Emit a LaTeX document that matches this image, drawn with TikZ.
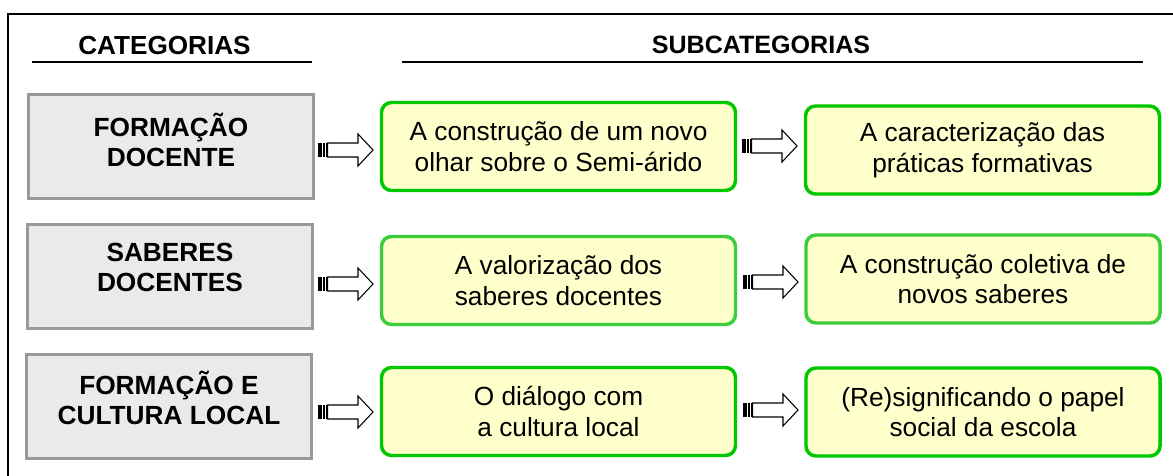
\documentclass[tikz,border=0pt]{standalone}
\usepackage{fontspec}
\setmainfont{Liberation Sans}
\definecolor{gline}{RGB}{0,200,0}
\definecolor{glinelt}{RGB}{60,205,60}
\definecolor{gfill}{HTML}{FFFFCC}
\definecolor{grayfill}{HTML}{EAEAEA}
\definecolor{grayline}{HTML}{999999}
\tikzset{
  catbox/.style={draw=grayline, fill=grayfill, line width=2.25pt, minimum width=213.75pt, minimum height=78pt, inner sep=0pt},
  subbox/.style={draw=gline, fill=gfill, line width=2.6pt, rounded corners=7.5pt, minimum width=265.5pt, minimum height=66pt, inner sep=0pt, align=center, font=\fontsize{19.7}{23}\selectfont},
  cattext/.style={align=center, inner sep=0pt, font=\fontsize{19.7}{22.5}\selectfont\bfseries},
  headtext/.style={anchor=base, inner sep=0pt, font=\bfseries},
  rule/.style={line width=1.6pt},
  blockarrow/.pic={
    \fill[black] (0,-7) rectangle (3.5,7);
    \fill[black] (5,-7) rectangle (7,7);
    \fill[black] (8,-7) rectangle (9.5,7);
    \draw[black, fill=white, line width=0.8pt, line join=miter]
      (9.5,-7) -- (40,-7) -- (40,-16) -- (55,0) -- (40,16) -- (40,7) -- (9.5,7) -- cycle;
  }
}
\begin{document}
\begin{tikzpicture}[x=0.75pt, y=-0.75pt]
\useasboundingbox (0,0) rectangle (1173,475);
\clip (0,0) rectangle (1173,475);
\fill[white] (0,0) rectangle (1173,475);
% outer frame
\draw[line width=1.5pt] (8,14) rectangle (1200,500);

% headers
\node[headtext, font=\fontsize{19.6}{22}\selectfont\bfseries] (hcat) at (164.5,54) {CATEGORIAS};
\node[headtext, font=\fontsize{18.8}{22}\selectfont\bfseries] (hsub) at (761,53) {SUBCATEGORIAS};
\coordinate (c1) at (32,62);  \coordinate (c2) at (312,62);
\coordinate (s1) at (402,62); \coordinate (s2) at (1143,62);
\draw[rule] (c1) -- (c2);
\draw[rule] (s1) -- (s2);

% category boxes
\node[catbox] (k1) at (171,146.5) {};
\node[catbox] (k2) at (170,276.5) {};
\node[catbox] (k3) at (168.5,406.5) {};
\node[cattext] (k1t) at (171,140) {FORMAÇÃO\\DOCENTE};
\node[cattext] (k2t) at (170,267.5) {SABERES\\DOCENTES};
\node[cattext] (k3t) at (169,398) {FORMAÇÃO E\\CULTURA LOCAL};

% subcategory boxes
\node[subbox] (a1) at (558.5,146.5) {A construção de um novo\\olhar sobre o Semi-árido};
\node[subbox, draw=glinelt] (a2) at (558.5,280.5) {A valorização dos\\saberes docentes};
\node[subbox] (a3) at (558.5,411.5) {O diálogo com\\a cultura local};
\node[subbox] (b1) at (982.5,150) {A caracterização das\\práticas formativas};
\node[subbox, draw=glinelt] (b2) at (983,279) {A construção coletiva de\\novos saberes};
\node[subbox] (b3) at (983,412) {(Re)significando o papel\\social da escola};

% block arrows
\pic at (318,150) {blockarrow};
\pic at (742,146) {blockarrow};
\pic at (318,284) {blockarrow};
\pic at (743,282) {blockarrow};
\pic at (318,412) {blockarrow};
\pic at (743,410) {blockarrow};
\end{tikzpicture}
\end{document}
